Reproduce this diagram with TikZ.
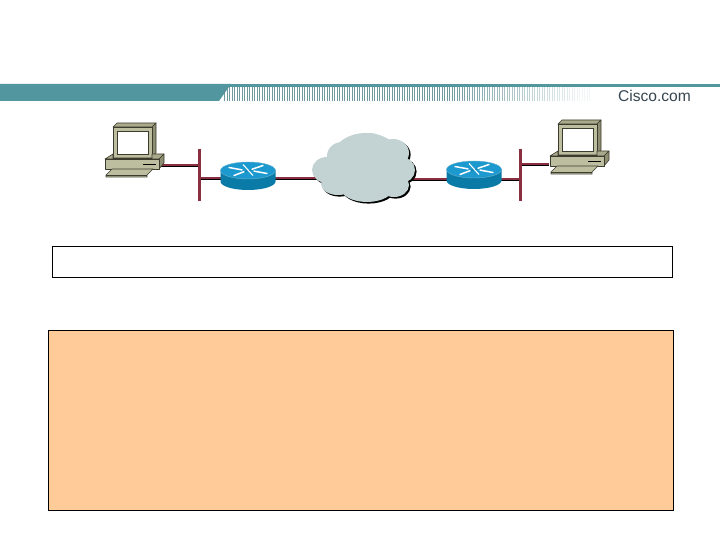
\documentclass[tikz,border=0pt]{standalone}
\usepackage{fontspec}
\setmainfont{Liberation Sans}
\definecolor{teal1}{HTML}{52979F}
\definecolor{stripe}{HTML}{5E8F94}
\definecolor{linkred}{HTML}{8A2F3F}
\definecolor{pcface}{HTML}{BDBDA0}
\definecolor{pcside}{HTML}{8E8E72}
\definecolor{pctop}{HTML}{A9A98C}
\definecolor{pcline}{HTML}{3C3C2E}
\definecolor{routertop}{HTML}{1C9AD0}
\definecolor{routerbody}{HTML}{0A7BA6}
\definecolor{cloudfill}{HTML}{C3D3D3}
\definecolor{panel}{HTML}{FFCC99}
\definecolor{logotext}{HTML}{36454F}
\tikzset{
  linkline/.style={draw=linkred,line width=2.8pt,preaction={draw=black,line width=2pt,transform canvas={yshift=-1.3pt}}},
  barline/.style={draw=linkred,line width=3pt,preaction={draw=black,line width=2pt,transform canvas={xshift=1pt}}},
  pcpart/.style={draw=pcline,line width=0.6pt,line join=round},
  pcicon/.pic={
    \path[pcpart,fill=pctop] (113,127) -- (117,123) -- (156,123) -- (152,127) -- cycle;
    \path[pcpart,fill=pcside] (152,127) -- (156,123) -- (156,153) -- (152,158) -- cycle;
    \path[pcpart,fill=pcface] (113,127) rectangle (152,158);
    \path[draw=pcline,fill=white,line width=0.6pt] (117,131) rectangle (148,154);
    \path[pcpart,fill=pctop] (105,159) -- (113,154) -- (113,158) -- (152,158) -- (152,154) -- (164,154) -- (159,159) -- cycle;
    \path[pcpart,fill=pcside] (159,159) -- (164,154) -- (164,163) -- (159,169) -- cycle;
    \path[pcpart,fill=pcface] (105,159) rectangle (159,169);
    \path[draw=black,line width=0.8pt] (143,164) -- (156,164);
    \path[pcpart,fill=pcface] (106,175) -- (112,169) -- (153,169) -- (147,175) -- (147,177) -- (106,177) -- cycle;
    \path[draw=pcline,line width=0.5pt] (106,175) -- (147,175);
  },
  routericon/.pic={
    \path[fill=routerbody] (-27.5,0) -- (-27.5,11) arc[start angle=180,end angle=0,x radius=27.5,y radius=8.5] -- (27.5,0) -- cycle;
    \path[fill=routertop,draw=routerbody!60!white,line width=0.4pt] (0,0) ellipse[x radius=27.5,y radius=8.5];
    \path[draw=routerbody,line width=0.9pt] (-9,3) -- (11,-3);
    \path[draw=white,line width=1.5pt,line cap=round] (-19,-3) -- (-6,-0.6) (19,3) -- (6,0.6) (15,-5) -- (4,-1.2) (-14,5) -- (-4,1.2);
    \path[draw=white,line width=1.1pt] (-5,-6) -- (5,5);
  },
  cloudblobs/.pic={
    \path[pic actions]
      (366,158) ellipse[x radius=34,y radius=25]
      (369,147) ellipse[x radius=20,y radius=14]
      (342,156) ellipse[x radius=15,y radius=14]
      (393,153) ellipse[x radius=16,y radius=14]
      (327,170) ellipse[x radius=15,y radius=13]
      (401,170) ellipse[x radius=14,y radius=13]
      (338,184) ellipse[x radius=17,y radius=11]
      (394,185) ellipse[x radius=15,y radius=12]
      (367,187) ellipse[x radius=27,y radius=15];
  }
}
\begin{document}
\begin{tikzpicture}[x=1pt,y=-1pt]
\useasboundingbox (0,0) rectangle (720,540);
% header
\fill[teal1] (0,84) rectangle (720,87);
\fill[teal1] (0,84) -- (231,84) -- (219,101) -- (0,101) -- cycle;
\foreach \xs in {224,226.5,...,590}
{
  \pgfmathsetmacro{\op}{\xs<450 ? 0.9 : max(0.08,0.9-(\xs-450)/160)}
  \fill[stripe,opacity=\op] (\xs,87) rectangle (\xs+1.3,101);
}
\node[anchor=center,inner sep=0pt,font=\fontsize{15.6}{16}\selectfont,text=logotext] (logo) at (654.5,96) {Cisco.com};
% anchors
\coordinate (pcA) at (159,165);
\coordinate (pcB) at (549,164);
\coordinate (barAu) at (199,165);
\coordinate (barAl) at (199,178);
\coordinate (barBu) at (520,164);
\coordinate (barBl) at (520,179);
\coordinate (barAt) at (199,149);
\coordinate (barAb) at (199,201);
\coordinate (barBt) at (520,149);
\coordinate (barBb) at (520,201);
\coordinate (rA) at (248,178);
\coordinate (rB) at (474,179);
\coordinate (clA) at (365,178);
\coordinate (clB) at (365,179);
% connectors
\draw[linkline] (pcA) -- (barAu);
\draw[linkline] (barAl) -- (rA);
\draw[linkline] (rA) -- (clA);
\draw[linkline] (clB) -- (rB);
\draw[linkline] (rB) -- (barBl);
\draw[linkline] (barBu) -- (pcB);
\draw[barline] (barAt) -- (barAb);
\draw[barline] (barBt) -- (barBb);
% PCs
\pic at (0,0) {pcicon};
\pic at (445,-3) {pcicon};
% routers
\pic at (248,170.5) {routericon};
\pic at (474,169.5) {routericon};
% cloud
\pic[fill=black] at (1.6,1.6) {cloudblobs};
\pic[fill=cloudfill] at (0,0) {cloudblobs};
% boxes
\node[draw=black,fill=white,line width=0.6pt,minimum width=620pt,minimum height=31pt,inner sep=0pt,anchor=north west] (topbox) at (52,246) {};
\node[draw=black,fill=panel,line width=0.6pt,minimum width=625pt,minimum height=180pt,inner sep=0pt,anchor=north west] (panelbox) at (48,330) {};
\end{tikzpicture}
\end{document}
